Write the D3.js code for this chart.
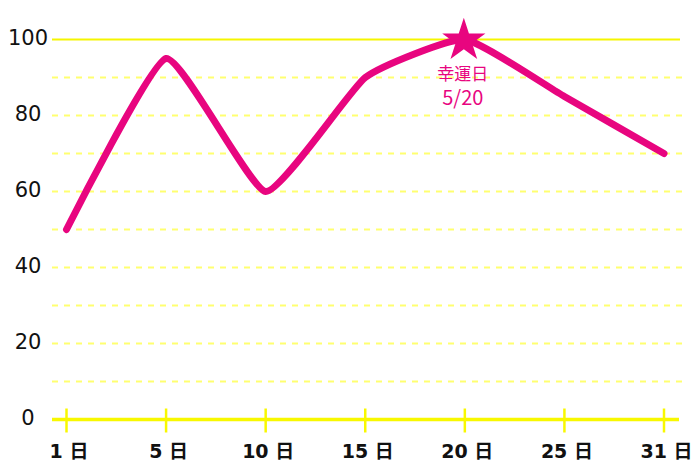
<!DOCTYPE html>
<html><head><meta charset="utf-8">
<script src="https://cdn.jsdelivr.net/npm/d3@7"></script>
<style>
html,body{margin:0;padding:0;background:#fff;}
svg{display:block;font-family:"DejaVu Sans","Noto Sans CJK JP",sans-serif;}
</style></head>
<body><svg id="c" width="700" height="467"></svg>
<script>
const categories = ["1日","5日","10日","15日","20日","25日","31日"];
const tickLabels = ["1 日","5 日","10 日","15 日","20 日","25 日","31 日"];
const values = [50, 95, 60, 90, 100, 85, 70];
const yTicks = [0, 20, 40, 60, 80, 100];
const gridValues = [10, 20, 30, 40, 50, 60, 70, 80, 90];
const luckyLabel = ["幸運日", "5/20"];
const luckyIndex = 4;

const svg = d3.select("#c");
const pink = "#e8057f";
const x = d3.scalePoint().domain(categories).range([66.5, 664]);
const y = d3.scaleLinear().domain([0, 100]).range([419.5, 39.5]);

// dashed gridlines
svg.append("g").selectAll("line").data(gridValues).join("line")
  .attr("x1", 52).attr("x2", 682)
  .attr("y1", d => y(d)).attr("y2", d => y(d))
  .attr("stroke", "#ffff70").attr("stroke-width", 2)
  .attr("stroke-dasharray", "6,6");
// top solid line
svg.append("line").attr("x1", 52).attr("x2", 680)
  .attr("y1", y(100)).attr("y2", y(100))
  .attr("stroke", "#f5f500").attr("stroke-width", 2);

// y labels
svg.append("g").selectAll("text").data(yTicks).join("text")
  .attr("x", 28).attr("y", d => y(d) + 5.5)
  .attr("text-anchor", "middle").attr("font-size", 21).attr("fill", "#111")
  .attr("font-family", "'DejaVu Sans',sans-serif")
  .text(d => d);

// x axis
const xAxis = d3.axisBottom(x).tickSize(0).tickFormat((d, i) => tickLabels[i]);
const gx = svg.append("g").attr("transform", `translate(0,${y(0)})`).call(xAxis);
gx.select(".domain").remove();
gx.selectAll("text").attr("font-size", 19).attr("font-weight", 600)
  .attr("fill", "#111").attr("y", 38.5).attr("dy", null)
  .attr("dx", 2)
  .attr("font-family", "'DejaVu Sans','Noto Sans CJK JP',sans-serif");
svg.append("line").attr("x1", 52).attr("x2", 679)
  .attr("y1", y(0)).attr("y2", y(0))
  .attr("stroke", "#f8f800").attr("stroke-width", 3.5);
svg.append("g").selectAll("line").data(categories).join("line")
  .attr("x1", d => x(d)).attr("x2", d => x(d))
  .attr("y1", y(0) - 11).attr("y2", y(0) + 13)
  .attr("stroke", "#f8f800").attr("stroke-width", 2.5);

// line
const line = d3.line().x((d, i) => x(categories[i])).y(d => y(d)).curve(d3.curveCardinal.tension(0.55));
svg.append("path").datum(values).attr("d", line)
  .attr("fill", "none").attr("stroke", pink).attr("stroke-width", 7)
  .attr("stroke-linecap", "round").attr("stroke-linejoin", "round");

// star
const sx = x(categories[luckyIndex]), sy = y(values[luckyIndex]);
svg.append("path").attr("d", d3.symbol(d3.symbolStar, 580)())
  .attr("transform", `translate(${sx - 1},${sy + 1})`).attr("fill", pink);
svg.append("text").attr("x", sx - 2).attr("y", sy + 40).attr("text-anchor", "middle")
  .attr("font-size", 17).attr("fill", pink)
  .attr("font-family", "'Noto Sans CJK JP',sans-serif").text(luckyLabel[0]);
svg.append("text").attr("x", sx - 2).attr("y", sy + 65.5).attr("text-anchor", "middle")
  .attr("font-size", 20).attr("fill", pink)
  .attr("font-family", "'Noto Sans CJK JP',sans-serif").text(luckyLabel[1]);
</script></body></html>
